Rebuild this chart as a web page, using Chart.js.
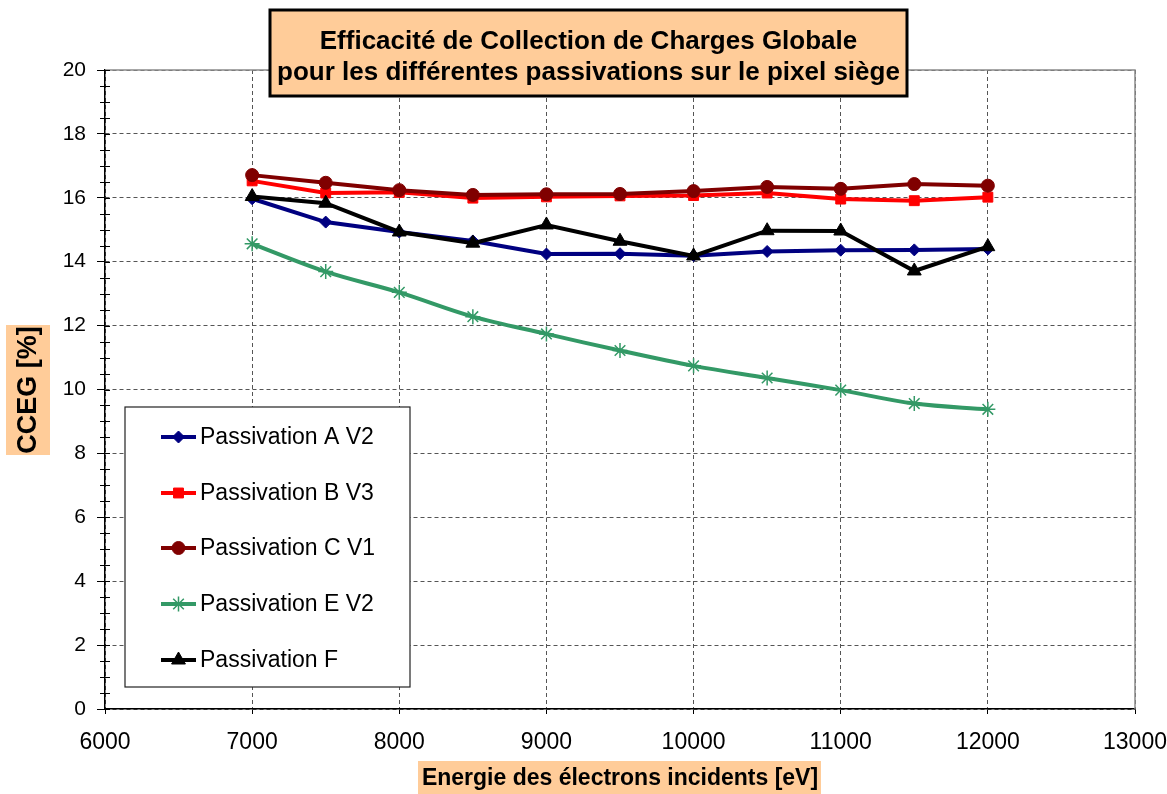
<!DOCTYPE html>
<html>
<head>
<meta charset="utf-8">
<script src="https://cdn.jsdelivr.net/npm/chart.js"></script>
<style>
  body { margin: 0; background: #fff; }
  canvas { display: block; }
</style>
</head>
<body>
<canvas id="cceg" width="1167" height="794"></canvas>
<script>
// data
const energies = [7000, 7500, 8000, 8500, 9000, 9500, 10000, 10500, 11000, 11500, 12000];
const passA = [15.97, 15.24, 14.93, 14.65, 14.24, 14.25, 14.19, 14.32, 14.36, 14.37, 14.40];
const passB = [16.53, 16.15, 16.17, 15.99, 16.03, 16.06, 16.07, 16.15, 15.96, 15.91, 16.02];
const passC = [16.71, 16.47, 16.24, 16.09, 16.11, 16.12, 16.21, 16.34, 16.28, 16.43, 16.38];
const passE = [14.56, 13.69, 13.04, 12.28, 11.74, 11.22, 10.74, 10.36, 9.98, 9.56, 9.38];
const passF = [16.04, 15.83, 14.93, 14.58, 15.15, 14.64, 14.18, 14.97, 14.96, 13.71, 14.47];

const seriesNames = ['Passivation A V2', 'Passivation B V3', 'Passivation C V1', 'Passivation E V2', 'Passivation F'];
const titleLines = ['Efficacité de Collection de Charges Globale', 'pour les différentes passivations sur le pixel siège'];
const xTitle = 'Energie des électrons incidents [eV]';
const yTitle = 'CCEG [%]';

const PEACH = '#FFCC99';
const FONT = '"Liberation Sans", Arial, sans-serif';

function toPoints(values) {
    return energies.map((e, i) => ({ x: e, y: values[i] }));
}

function makeSet(label, values, color, style, radius, order, tension) {
    return {
        label: label,
        data: toPoints(values),
        borderColor: color,
        backgroundColor: color,
        borderWidth: 4,
        pointStyle: style,
        pointRadius: radius,
        pointBorderWidth: style === 'star' ? 1.5 : 1,
        pointBackgroundColor: color,
        pointBorderColor: color,
        tension: tension || 0,
        order: order
    };
}

// frame (top/right), minor ticks on y
const framePlugin = {
    id: 'frame',
    beforeDatasetsDraw(chart) {
        const { ctx, chartArea: a } = chart;
        ctx.save();
        ctx.strokeStyle = '#8a8a8a';
        ctx.lineWidth = 1.5;
        ctx.beginPath();
        ctx.moveTo(a.left, a.top);
        ctx.lineTo(a.right, a.top);
        ctx.lineTo(a.right, a.bottom);
        ctx.stroke();

        const y = chart.scales.y;
        ctx.strokeStyle = '#000';
        ctx.lineWidth = 1.2;
        ctx.beginPath();
        for (let v = 0; v <= 20; v += 0.5) {
            const py = Math.round(y.getPixelForValue(v)) + 0.5;
            const major = v % 2 === 0;
            ctx.moveTo(major ? a.left : a.left - 5, py);
            ctx.lineTo(a.left + 5, py);
        }
        ctx.stroke();
        ctx.restore();
    }
};

// legend box, axis titles and title box
const decorPlugin = {
    id: 'decor',
    afterDraw(chart) {
        const ctx = chart.ctx;
        ctx.save();

        // legend
        ctx.fillStyle = '#fff';
        ctx.fillRect(125, 407, 285, 280);
        ctx.strokeStyle = '#222';
        ctx.lineWidth = 1.2;
        ctx.strokeRect(125, 407, 285, 280);
        const rows = [437, 493, 548, 604, 660];
        chart.data.datasets.forEach((ds, i) => {
            const ly = rows[i];
            ctx.strokeStyle = ds.borderColor;
            ctx.lineWidth = 4;
            ctx.beginPath();
            ctx.moveTo(161, ly);
            ctx.lineTo(196, ly);
            ctx.stroke();
            ctx.fillStyle = ds.borderColor;
            ctx.lineWidth = ds.pointBorderWidth;
            Chart.helpers.drawPoint(ctx, {
                pointStyle: ds.pointStyle,
                radius: ds.pointRadius,
                borderWidth: ds.pointBorderWidth,
                rotation: 0
            }, 178.5, ly);
            ctx.fillStyle = '#000';
            ctx.font = '23px ' + FONT;
            ctx.textAlign = 'left';
            ctx.textBaseline = 'middle';
            ctx.fillText(ds.label, 200, ly + 1);
        });

        // y title
        ctx.fillStyle = PEACH;
        ctx.fillRect(6, 325, 44, 130);
        ctx.save();
        ctx.translate(29, 390);
        ctx.rotate(-Math.PI / 2);
        ctx.fillStyle = '#000';
        ctx.font = 'bold 27px ' + FONT;
        ctx.textAlign = 'center';
        ctx.textBaseline = 'middle';
        ctx.fillText(yTitle, 0, 0);
        ctx.restore();

        // x title
        ctx.fillStyle = PEACH;
        ctx.fillRect(418, 761, 403, 33);
        ctx.fillStyle = '#000';
        ctx.font = 'bold 23px ' + FONT;
        ctx.textAlign = 'center';
        ctx.textBaseline = 'middle';
        ctx.fillText(xTitle, 620, 779);

        // title box
        ctx.fillStyle = PEACH;
        ctx.fillRect(270, 10, 637, 86);
        ctx.strokeStyle = '#000';
        ctx.lineWidth = 3;
        ctx.strokeRect(270, 10, 637, 86);
        ctx.fillStyle = '#000';
        ctx.font = 'bold 26px ' + FONT;
        ctx.fillText(titleLines[0], 588.5, 42);
        ctx.fillText(titleLines[1], 588.5, 73);

        ctx.restore();
    }
};

new Chart(document.getElementById('cceg'), {
    type: 'line',
    data: {
        datasets: [
            makeSet(seriesNames[0], passA, '#000080', 'rectRot', 6, 5),
            makeSet(seriesNames[1], passB, '#FF0000', 'rect', 7, 4),
            makeSet(seriesNames[2], passC, '#800000', 'circle', 6.5, 3),
            makeSet(seriesNames[3], passE, '#339966', 'star', 7.5, 2, 0.35),
            makeSet(seriesNames[4], passF, '#000000', 'triangle', 8, 1)
        ]
    },
    options: {
        responsive: false,
        animation: false,
        layout: { padding: { top: 70, right: 32, left: 0, bottom: 0 } },
        scales: {
            x: {
                type: 'linear',
                min: 6000,
                max: 13000,
                afterFit: (s) => { s.height = 85; s.paddingLeft = 0; s.paddingRight = 0; },
                ticks: {
                    stepSize: 1000,
                    color: '#000',
                    padding: 15,
                    font: { family: FONT, size: 23 },
                    maxRotation: 0,
                    callback: (v) => String(v)
                },
                grid: {
                    color: '#555',
                    lineWidth: 1,
                    tickLength: 5,
                    tickColor: '#000',
                    tickBorderDash: []
                },
                border: { color: '#000', width: 1.5, dash: [4, 3] }
            },
            y: {
                min: 0,
                max: 20,
                afterFit: (s) => { s.width = 105; s.paddingTop = 0; s.paddingBottom = 0; },
                ticks: {
                    stepSize: 2,
                    color: '#000',
                    padding: 11,
                    font: { family: FONT, size: 21 }
                },
                grid: {
                    color: '#555',
                    lineWidth: 1,
                    tickLength: 8,
                    tickColor: '#000',
                    tickBorderDash: []
                },
                border: { color: '#000', width: 1.5, dash: [4, 3] }
            }
        },
        plugins: {
            legend: { display: false },
            title: { display: false },
            tooltip: { enabled: false }
        }
    },
    plugins: [framePlugin, decorPlugin]
});
</script>
</body>
</html>
